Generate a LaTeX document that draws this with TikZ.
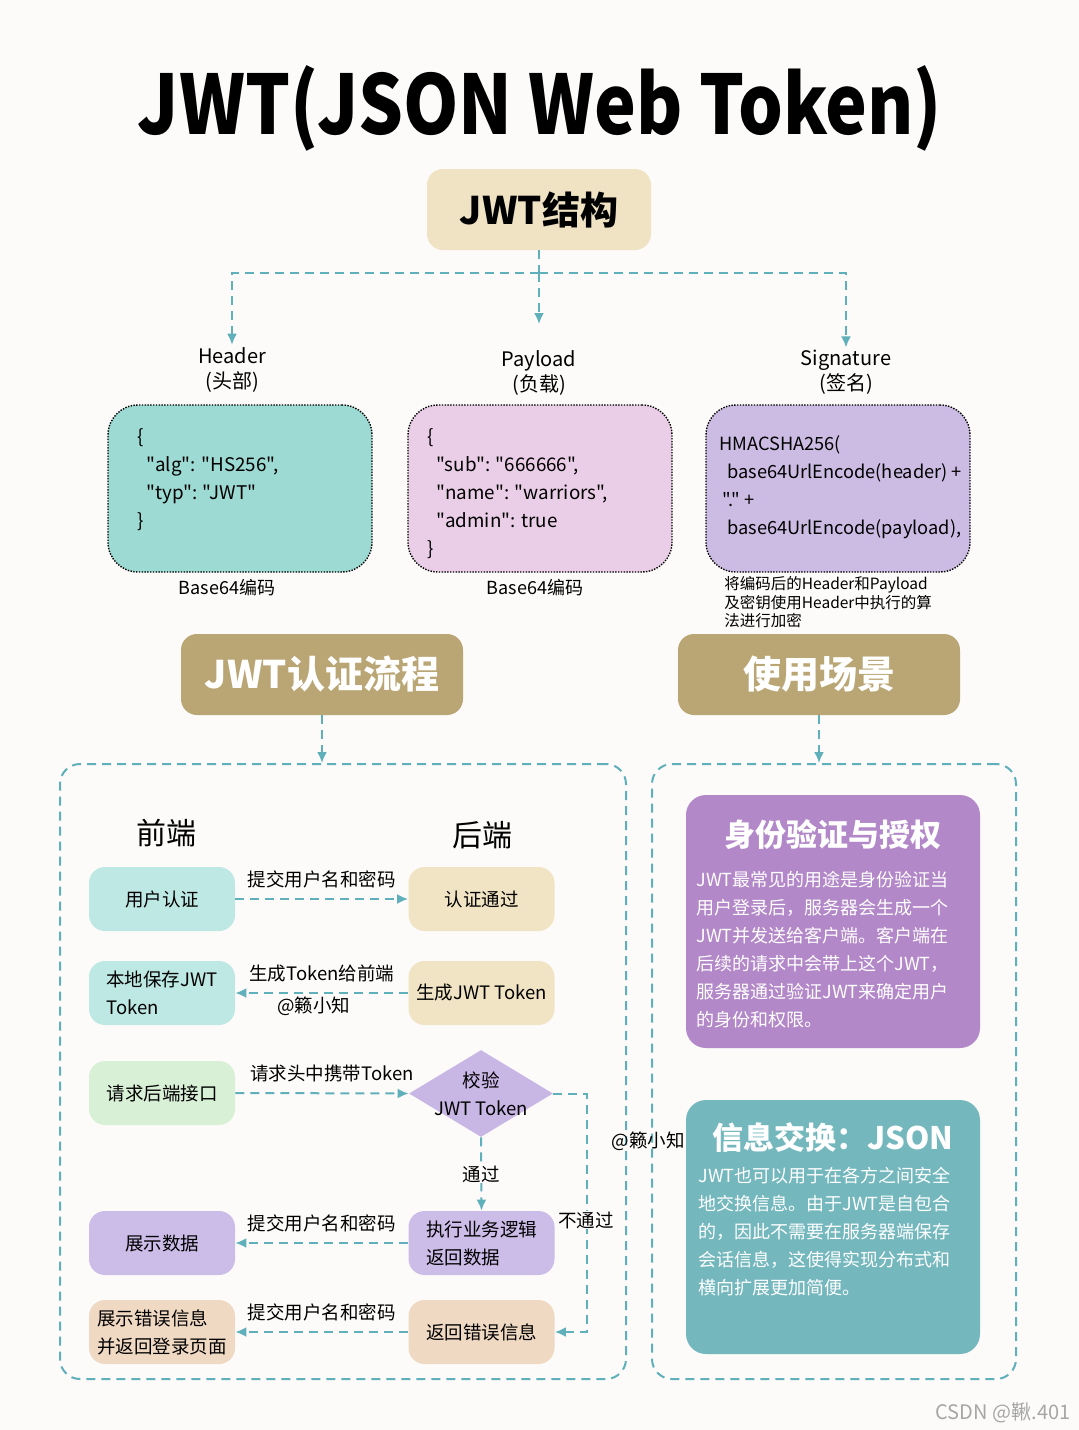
\documentclass[tikz,border=0pt]{standalone}
\usepackage{fontspec}
\setmainfont{Noto Sans CJK SC}
\newfontfamily\codefont{Noto Sans CJK SC}
\usetikzlibrary{positioning,shapes.geometric,arrows.meta}

\definecolor{bgcol}{RGB}{252,251,249}
\definecolor{linecol}{RGB}{95,176,186}
\definecolor{structcol}{RGB}{239,227,196}
\definecolor{hdrcol}{RGB}{156,218,211}
\definecolor{paycol}{RGB}{234,205,230}
\definecolor{sigcol}{RGB}{204,188,228}
\definecolor{goldcol}{RGB}{186,166,116}
\definecolor{frontcol}{RGB}{190,232,227}
\definecolor{backcol}{RGB}{241,228,196}
\definecolor{reqcol}{RGB}{216,240,214}
\definecolor{chkcol}{RGB}{200,182,228}
\definecolor{datacol}{RGB}{204,188,232}
\definecolor{errcol}{RGB}{240,217,195}
\definecolor{authzcol}{RGB}{179,136,200}
\definecolor{infocol}{RGB}{116,184,190}

\begin{document}
\begin{tikzpicture}[x=0.5pt,y=-0.5pt,
    flow/.style={draw=linecol,line width=1pt,dash pattern=on 4.5pt off 3pt,-{Latex[length=5.5pt,width=5pt]}},
    plain/.style={draw=linecol,line width=1pt,dash pattern=on 4.5pt off 3pt},
    codebox/.style={draw=black,line width=0.7pt,dash pattern=on 0.7pt off 0.7pt,rounded corners=15pt,minimum width=132pt,minimum height=83.5pt},
    codetxt/.style={anchor=west,align=left,inner sep=0pt,font=\codefont\fontsize{9.4}{14}\selectfont},
    partlbl/.style={align=center,inner sep=1pt,font=\fontsize{10}{12.5}\selectfont},
    goldbox/.style={fill=goldcol,rounded corners=8pt,minimum width=141pt,minimum height=40.5pt,text=white,font=\fontsize{19}{22}\bfseries\selectfont},
    panel/.style={plain,rounded corners=10pt,minimum height=307.5pt},
    stepbox/.style={rounded corners=8pt,minimum width=73pt,minimum height=32pt,align=left,font=\fontsize{9.25}{14}\selectfont},
    steplbl/.style={inner sep=1pt,font=\fontsize{9.25}{11}\selectfont},
    usebox/.style={rounded corners=10pt,minimum width=147pt},
    usetitle/.style={text=white,font=\fontsize{15.5}{18}\bfseries\selectfont},
    usetxt/.style={anchor=west,align=left,inner sep=0pt,text=white,font=\fontsize{9}{14}\selectfont}]

\path[fill=bgcol,use as bounding box] (0,0) rectangle (1079,1430);

% title and structure
\node[font=\fontsize{41}{48}\bfseries\selectfont] (title) at (540,108) {\scalebox{0.86}[1]{JWT(JSON Web Token)}};
\node[fill=structcol,rounded corners=8pt,minimum width=112pt,minimum height=40.5pt,font=\fontsize{19}{22}\bfseries\selectfont] (struct) at (539,209.5) {JWT结构};

\node[partlbl] (hdrlbl) at (232,369.5) {Header\\(头部)};
\node[partlbl] (paylbl) at (539,373) {Payload\\(负载)};
\node[partlbl] (siglbl) at (846,372) {Signature\\(签名)};

\coordinate (split) at (539,273);
\coordinate (paytip) at (539,324);
\draw[plain] (struct.south) -- (split);
\draw[flow] (split) -| (hdrlbl.north);
\draw[flow] (split) -- (paytip);
\draw[flow] (split) -| (siglbl.north);

\node[codebox,fill=hdrcol] (hdr) at (240,488.5) {};
\node[codebox,fill=paycol] (pay) at (540,488.5) {};
\node[codebox,fill=sigcol] (sig) at (838,488.5) {};

\node[codetxt] (hdrtxt) at (137,479.5) {\{\\\hspace*{4.5pt}"alg": "HS256",\\\hspace*{4.5pt}"typ": "JWT"\\\}};
\node[codetxt] (paytxt) at (427,493.5) {\{\\\hspace*{4.5pt}"sub": "666666",\\\hspace*{4.5pt}"name": "warriors",\\\hspace*{4.5pt}"admin": true\\\}};
\node[codetxt,font=\codefont\fontsize{9.1}{14}\selectfont] (sigtxt) at (719,487.5) {HMACSHA256(\\\hspace*{4pt}base64UrlEncode(header) +\\\hspace*{1.5pt}"." +\\\hspace*{4pt}base64UrlEncode(payload),};

\node[font=\fontsize{9}{11}\selectfont] (hdrenc) at (227,588) {Base64编码};
\node[font=\fontsize{9}{11}\selectfont] (payenc) at (535,588) {Base64编码};
\node[anchor=west,align=left,inner sep=0pt,font=\fontsize{7.75}{9.25}\selectfont] (signote) at (724,602.5) {将编码后的Header和Payload\\及密钥使用Header中执行的算\\法进行加密};

% two sections
\node[goldbox] (auth) at (322,674.5) {JWT认证流程};
\node[goldbox] (scen) at (819,674.5) {使用场景};

\node[panel,minimum width=283pt] (lpanel) at (343,1071.5) {};
\node[panel,minimum width=182pt] (rpanel) at (834,1071.5) {};
\draw[flow] (auth.south) -- (auth.south |- lpanel.north);
\draw[flow] (scen.south) -- (scen.south |- rpanel.north);

% authentication flow
\node[font=\fontsize{15}{18}\selectfont] (front) at (166,833) {前端};
\node[font=\fontsize{15}{18}\selectfont] (back) at (482,835) {后端};

\node[stepbox,fill=frontcol] (login) at (162,899) {用户认证};
\node[stepbox,fill=backcol] (passed) at (481.5,899) {认证通过};
\node[stepbox,fill=frontcol] (savetok) at (162,993) {本地保存JWT\\Token};
\node[stepbox,fill=backcol] (gentok) at (481.5,993) {生成JWT Token};
\node[stepbox,fill=reqcol] (reqapi) at (162,1093) {请求后端接口};
\node[diamond,fill=chkcol,minimum width=72pt,minimum height=43.5pt,inner sep=0pt] (chk) at (481,1093.5) {};
\node[align=center,inner sep=0pt,font=\fontsize{9.25}{14}\selectfont] (chktxt) at (chk.center) {校验\\JWT Token};
\node[stepbox,fill=datacol] (showdata) at (162,1243) {展示数据};
\node[stepbox,fill=datacol] (biz) at (481.5,1243) {执行业务逻辑\\返回数据};
\node[stepbox,fill=errcol] (showerr) at (162,1332) {展示错误信息\\并返回登录页面};
\node[stepbox,fill=errcol] (errret) at (481.5,1332) {返回错误信息};

\draw[flow] (login.east) -- (passed.west) node[midway,above=4pt,steplbl] {提交用户名和密码};
\draw[flow] (gentok.west) -- (savetok.east) node[midway,above=4pt,steplbl] (gentxt) {生成Token给前端}
    node[midway,below=0.5pt,steplbl,xshift=-4pt] (mark1) {@籁小知};
\draw[flow] (reqapi.east) -- (chk.west) node[midway,above=4pt,steplbl,xshift=5pt] {请求头中携带Token};
\draw[flow] (chk.south) -- (biz.north) node[midway,steplbl,fill=bgcol,inner sep=0.5pt] (oktxt) {通过};
\coordinate (failc) at (587,1093.5);
\draw[flow] (chk.east) -- (failc) |- (errret.east);
\node[steplbl,fill=bgcol,inner sep=0.5pt] (failtxt) at (586,1220) {不通过};
\draw[flow] (biz.west) -- (showdata.east) node[midway,above=4pt,steplbl] {提交用户名和密码};
\draw[flow] (errret.west) -- (showerr.east) node[midway,above=4pt,steplbl] {提交用户名和密码};
\node[steplbl] (mark2) at (648,1141) {@籁小知};

% use cases
\node[usebox,fill=authzcol,minimum height=126.5pt] (authz) at (833,921.5) {};
\node[usetitle] (authzttl) at (833,835) {身份验证与授权};
\node[usetxt] (authztxt) at (696,950) {JWT最常见的用途是身份验证当\\用户登录后，服务器会生成一个\\JWT并发送给客户端。客户端在\\后续的请求中会带上这个JWT，\\服务器通过验证JWT来确定用户\\的身份和权限。};
\node[usebox,fill=infocol,minimum height=127pt] (info) at (833,1227) {};
\node[usetitle] (infottl) at (833,1138) {信息交换：JSON};
\node[usetxt] (infotxt) at (698,1232) {JWT也可以用于在各方之间安全\\地交换信息。由于JWT是自包合\\的，因此不需要在服务器端保存\\会话信息，这使得实现分布式和\\横向扩展更加简便。};

\node[text=black!35,font=\fontsize{10}{12}\selectfont] (wmark) at (1003,1413) {CSDN @鞦.401};
\end{tikzpicture}
\end{document}
